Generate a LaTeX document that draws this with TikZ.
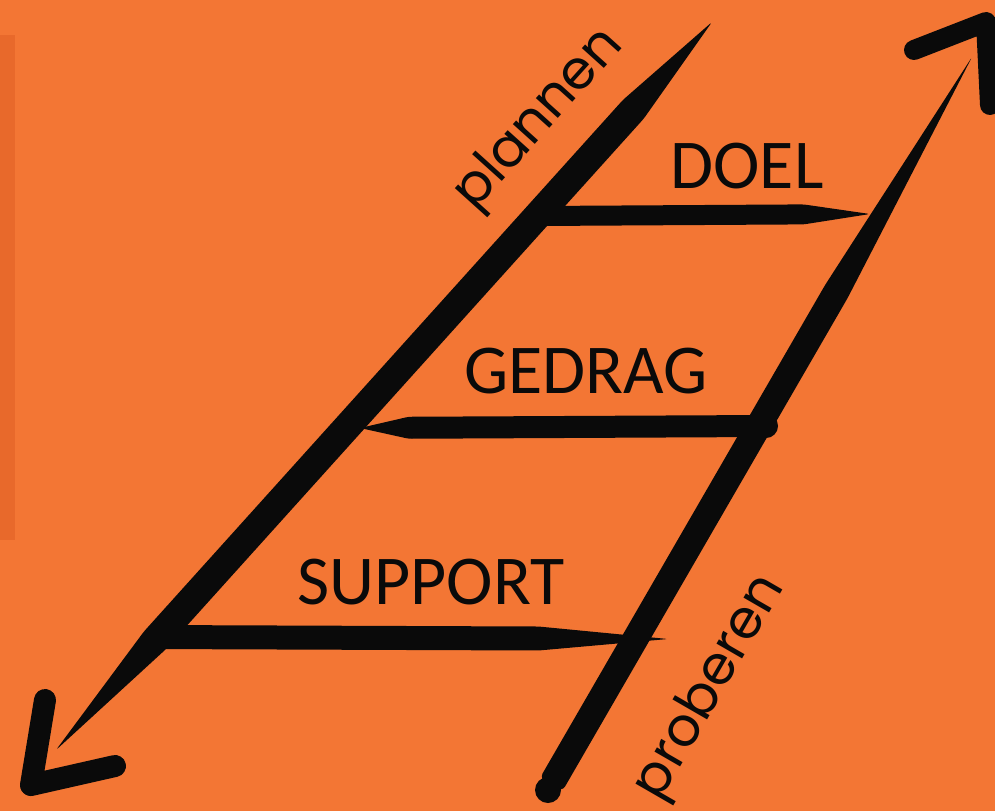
\documentclass[tikz,border=0pt]{standalone}
\usepackage{fontspec}
\setmainfont{Carlito}
\newfontfamily\roundfont{Poppins}
\usetikzlibrary{calc}

\definecolor{ladderorange}{HTML}{F37634}
\definecolor{striporange}{HTML}{E8692B}
\definecolor{inkblack}{HTML}{0A0A0A}

% tapered brush stroke: start, end, half width, full width from, full width to
\newcommand{\brushstroke}[5]{%
  \fill[inkblack, rounded corners=3pt] (#1)
    -- ($(#1)!#4!(#2)!#3!90:(#2)$)
    -- ($(#1)!0.5!(#2)!#3!90:(#2)$)
    -- ($(#1)!#5!(#2)!#3!90:(#2)$)
    -- (#2)
    -- ($(#1)!#5!(#2)!#3!-90:(#2)$)
    -- ($(#1)!0.5!(#2)!#3!-90:(#2)$)
    -- ($(#1)!#4!(#2)!#3!-90:(#2)$)
    -- cycle;}

\tikzset{
  rungword/.style={font=\fontsize{70}{70}\selectfont, text=inkblack, inner sep=0pt, anchor=base},
  railword/.style={font=\roundfont\fontsize{54}{54}\selectfont, text=inkblack, inner sep=0pt},
  arrowstroke/.style={draw=inkblack, line join=round, line cap=round}
}

\begin{document}
\begin{tikzpicture}[x=1pt, y=-1pt]

% Background (orange)
\fill[ladderorange] (0,0) rectangle (995,811);
\useasboundingbox (0,0) rectangle (995,811);
\clip (0,0) rectangle (995,811);

% Darker strip at the left edge
\fill[striporange] (0,35) rectangle (15,540);

% Rail ends
\coordinate (lefttop) at (712,22);
\coordinate (leftfoot) at (56,750);
\coordinate (righttop) at (972,57);
\coordinate (rightfoot) at (548,790);

% Left rail (plannen)
\brushstroke{lefttop}{leftfoot}{14pt}{0.12}{0.85}

% Right rail (proberen)
\brushstroke{righttop}{rightfoot}{13pt}{0.32}{0.99}
\fill[inkblack] (rightfoot) circle (13);

% Rungs
\coordinate (doelL) at (538,216);
\coordinate (doelR) at (870,214);
\coordinate (gedragL) at (360,428);
\coordinate (gedragR) at (766,426);
\coordinate (supportL) at (150,637);
\coordinate (supportR) at (668,639);
\brushstroke{doelL}{doelR}{10pt}{0.02}{0.8}
\brushstroke{gedragL}{gedragR}{11pt}{0.12}{0.99}
\fill[inkblack] (gedragR) circle (12);
\brushstroke{supportL}{supportR}{12pt}{0.02}{0.75}

% Arrow head at the foot of the left rail
\coordinate (downarm) at (45,700);
\coordinate (downcorner) at (31,785);
\coordinate (downend) at (115,766);
\draw[arrowstroke, line width=22] (downarm) -- (downcorner) -- (downend);

% Arrow head at the top of the right rail
\coordinate (uparm) at (914,50);
\coordinate (upcorner) at (986,22);
\coordinate (upend) at (990,105);
\draw[arrowstroke, line width=20] (uparm) -- (upcorner) -- (upend);

% Rung labels
\node[rungword] (doel) at (747,188) {DOEL};
\node[rungword] (gedrag) at (586,393) {GEDRAG};
\node[rungword] (support) at (431,604) {SUPPORT};

% Rail labels
\node[railword, rotate=48] (plannen) at (540,120) {plannen};
\node[railword, rotate=60] (proberen) at (711,688) {proberen};

\end{tikzpicture}
\end{document}
